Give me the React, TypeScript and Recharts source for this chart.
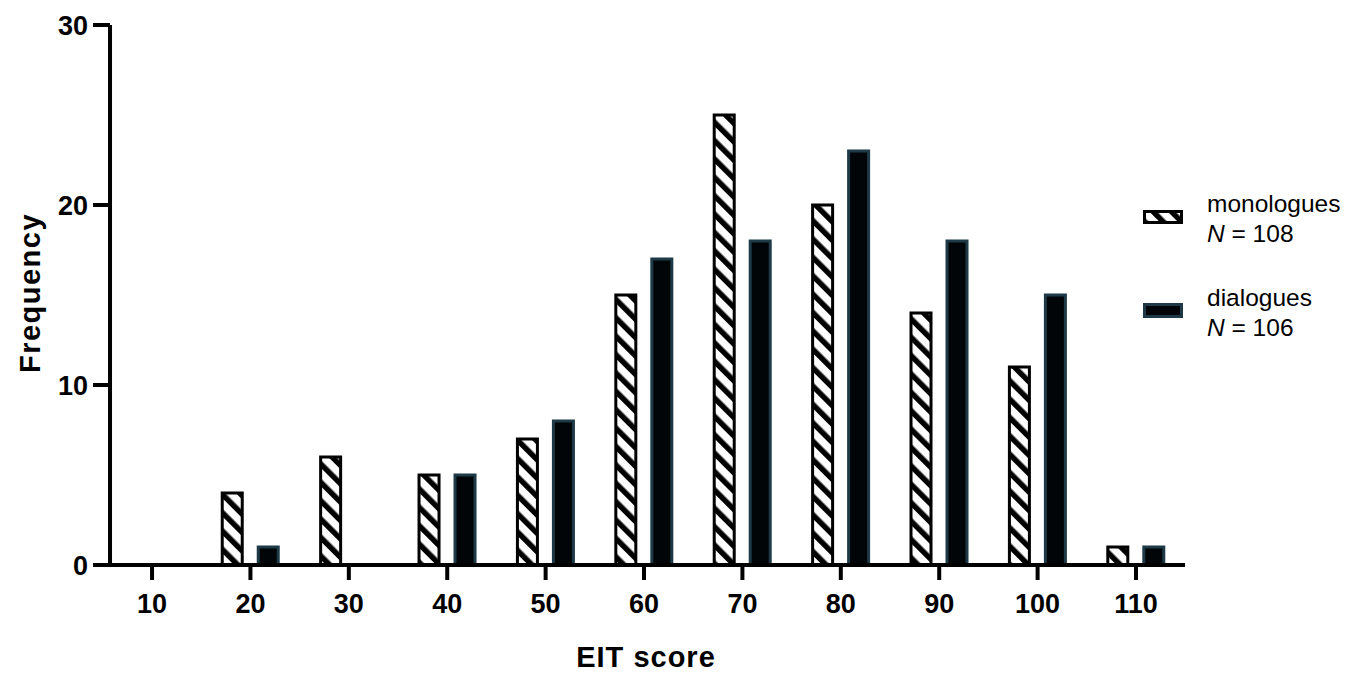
import { BarChart, Bar, XAxis, YAxis, ReferenceLine } from 'recharts';

const scores = [10, 20, 30, 40, 50, 60, 70, 80, 90, 100, 110];
const monologues = [0, 4, 6, 5, 7, 15, 25, 20, 14, 11, 1];
const dialogues = [0, 1, 0, 5, 8, 17, 18, 23, 18, 15, 1];
const yTicks = [0, 10, 20, 30];

const data = scores.map((score, i) => ({
  score,
  monologues: monologues[i],
  dialogues: dialogues[i],
}));

const FONT = '"Liberation Sans", Arial, Helvetica, sans-serif';
const DIALOGUE_FILL = '#020507';
const DIALOGUE_STROKE = '#1d3a46';

const YTick = (props: any) => {
  const { y, payload } = props;
  return (
    <g>
      <line x1={93} x2={110} y1={y} y2={y} stroke="#000" strokeWidth={4} />
      <text
        x={88}
        y={y + 1}
        textAnchor="end"
        dominantBaseline="central"
        fontFamily={FONT}
        fontWeight="bold"
        fontSize={27}
        fill="#000"
      >
        {payload.value}
      </text>
    </g>
  );
};

const Hatch = ({ id }: { id: string }) => (
  <pattern id={id} patternUnits="userSpaceOnUse" width={13} height={13} patternTransform="rotate(-45)">
    <rect x={0} y={0} width={13} height={13} fill="#fff" />
    <rect x={0} y={0} width={5.5} height={13} fill="#000" />
  </pattern>
);

export default function App() {
  return (
    <div style={{ position: 'absolute', left: 0, top: 0, width: 1354, height: 674, background: '#fff' }}>
      <BarChart
        width={1354}
        height={674}
        data={data}
        margin={{ top: 25, right: 169, left: 0, bottom: 0 }}
        barSize={20}
        barGap={16}
      >
        <defs>
          <Hatch id="hatch" />
        </defs>
        <XAxis
          dataKey="score"
          type="number"
          domain={[4.0, 114.98]}
          allowDataOverflow
          ticks={scores}
          height={109}
          stroke="#000"
          axisLine={{ stroke: '#000', strokeWidth: 4 }}
          tickLine={{ stroke: '#000', strokeWidth: 4 }}
          tickSize={15}
          tickMargin={14}
          tick={{ fill: '#000', fontFamily: FONT, fontWeight: 'bold', fontSize: 27 }}
          label={{
            content: () => (
              <text
                x={646}
                y={657}
                textAnchor="middle"
                dominantBaseline="central"
                fontFamily={FONT}
                fontWeight="bold"
                fontSize={29}
                letterSpacing={1}
                fill="#000"
              >
                EIT score
              </text>
            ),
          }}
        />
        <YAxis
          type="number"
          domain={[0, 30]}
          ticks={yTicks}
          width={93}
          axisLine={false}
          tickLine={false}
          tick={<YTick />}
          label={{
            content: () => (
              <text
                x={30}
                y={293}
                transform="rotate(-90 30 293)"
                textAnchor="middle"
                dominantBaseline="central"
                fontFamily={FONT}
                fontWeight="bold"
                fontSize={29}
                letterSpacing={1.5}
                fill="#000"
              >
                Frequency
              </text>
            ),
          }}
        />
        <ReferenceLine x={5.73} stroke="#000" strokeWidth={4} ifOverflow="extendDomain" />
        <Bar
          dataKey="monologues"
          fill="url(#hatch)"
          stroke="#000"
          strokeWidth={3}
          isAnimationActive={false}
        />
        <Bar
          dataKey="dialogues"
          fill={DIALOGUE_FILL}
          stroke={DIALOGUE_STROKE}
          strokeWidth={3}
          isAnimationActive={false}
        />
      </BarChart>

      <svg
        width={1354}
        height={674}
        style={{ position: 'absolute', left: 0, top: 0, pointerEvents: 'none' }}
      >
        <defs>
          <Hatch id="hatch-legend" />
        </defs>
        <rect x={1144.5} y={211.5} width={37} height={11} fill="url(#hatch-legend)" stroke="#000" strokeWidth={3} />
        <rect x={1144.5} y={304.5} width={37} height={12} fill={DIALOGUE_FILL} stroke={DIALOGUE_STROKE} strokeWidth={3} />
        <g fontFamily={FONT} fontSize={24.5} fill="#000">
          <text x={1207} y={203} dominantBaseline="central">monologues</text>
          <text x={1207} y={233} dominantBaseline="central">
            <tspan fontStyle="italic">N</tspan> = 108
          </text>
          <text x={1207} y={297} dominantBaseline="central">dialogues</text>
          <text x={1207} y={327} dominantBaseline="central">
            <tspan fontStyle="italic">N</tspan> = 106
          </text>
        </g>
      </svg>
    </div>
  );
}
